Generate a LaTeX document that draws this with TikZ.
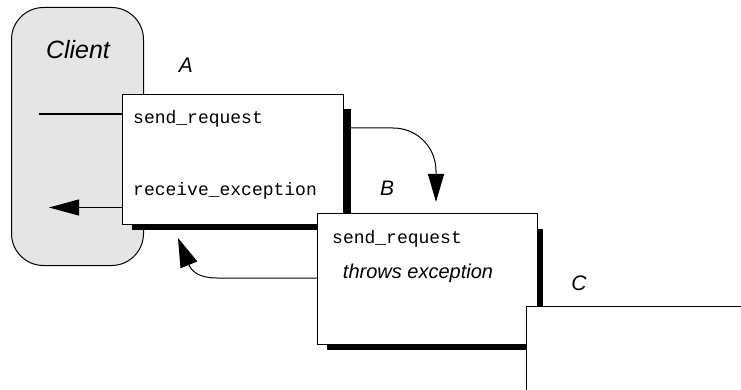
\documentclass[tikz,border=0pt]{standalone}
\usepackage{fontspec}
\setmainfont{Liberation Sans}
\setmonofont{Liberation Mono}
\usetikzlibrary{arrows.meta}
\begin{document}
\begin{tikzpicture}[x=1pt,y=-1pt,
  box/.style={draw, line width=1.3pt, fill=white, anchor=north west, inner sep=0pt},
  shadowbox/.style={fill=black, anchor=north west, inner sep=0pt},
  clientbox/.style={draw, line width=1pt, fill=gray!20, rounded corners=32pt, anchor=north west, inner sep=0pt},
  lbl/.style={font=\fontsize{21}{21}\selectfont\itshape, inner sep=0pt},
  code/.style={font=\fontsize{18}{18}\selectfont\ttfamily, anchor=mid west, inner sep=0pt},
  conn/.style={line width=1pt},
  tipL/.style={-{Triangle[length=30pt,width=16pt]}},
]
\useasboundingbox (0,0) rectangle (741,390);
\clip (0,0) rectangle (741,390);
% Client
\node[clientbox, minimum width=132pt, minimum height=258pt] (client) at (11,7) {};
\node[font=\fontsize{25}{25}\selectfont\itshape, inner sep=0pt] (clientlbl) at (78,50) {Client};
% Box A
\node[shadowbox, minimum width=219pt, minimum height=121pt] (shA) at (132,109) {};
\node[box, minimum width=221pt, minimum height=130pt] (A) at (122,94) {};
\node[lbl] (Alabel) at (186,65) {A};
\node[code] (Asend) at (133,121) {send\_request};
\node[code] (Arecv) at (133,193) {receive\_exception};
% Box B
\node[shadowbox, minimum width=216pt, minimum height=121pt] (shB) at (327,229) {};
\node[box, minimum width=220pt, minimum height=131pt] (B) at (317,213) {};
\node[lbl] (Blabel) at (387,188) {B};
\node[code] (Bsend) at (332,241) {send\_request};
\node[font=\fontsize{20}{20}\selectfont\itshape, inner sep=0pt] (Bthrow) at (418,273) {throws exception};
% Box C
\node[box, minimum width=250pt, minimum height=120pt] (C) at (526,306) {};
\node[lbl] (Clabel) at (579,283) {C};
% connectors
\coordinate (cl) at (39,114);
\draw[conn, line width=1.3pt] (cl) -- (cl -| A.west);
\coordinate (ltip) at (49,207.5);
\draw[conn, tipL] (ltip -| A.west) -- (ltip);
\coordinate (astart) at (351,128);
\coordinate (btip) at (436,202);
\draw[conn, -{Triangle[length=28pt,width=16pt]}] (astart) -- (393,128) .. controls (417,128) and (436,147) .. (436,171) -- (btip);
\coordinate (rstart) at (317,278);
\coordinate (rtip) at (178,238);
\draw[conn, -{Triangle[length=29pt,width=18pt]}] (rstart -| B.west) -- (217,278) .. controls (200,278) and (192,272) .. (189,265) -- (rtip);
\end{tikzpicture}
\end{document}
